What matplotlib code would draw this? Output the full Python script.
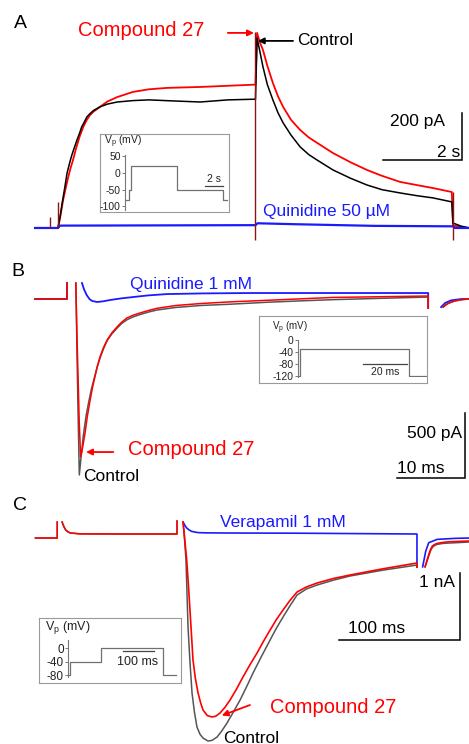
import numpy as np
import matplotlib.pyplot as plt

plt.rcParams["font.family"] = ["Liberation Sans", "DejaVu Sans"]
plt.rcParams["mathtext.fontset"] = "custom"
plt.rcParams["mathtext.rm"] = "Liberation Sans"
plt.rcParams["mathtext.it"] = "Liberation Sans:italic"

nan = np.nan

# ---- panel A: slow current (time in s, current in pA) ----
a_ctrl_t = [-0.58, 0, 0.05, 0.1, 0.17, 0.23, 0.3, 0.35, 0.42, 0.48, 0.55, 0.6, 0.67, 0.73, 0.8,
            0.9, 1.06, 1.25, 1.5, 1.9, 2.3, 3.0, 3.6, 4.3, 5.0,
            5.04, 5.1, 5.19, 5.3, 5.44, 5.57, 5.7, 5.9, 6.13, 6.35, 6.56, 6.96, 7.4, 7.82, 8.2,
            8.66, 9.1, 9.49, 9.97, 10.0, 10.2, 10.41]
a_ctrl_i = [0, 0, 45, 100, 170, 234, 280, 310, 345, 374, 405, 430, 452, 472, 485,
            500, 515, 527, 536, 542, 545, 540, 536, 545, 548,
            808, 760, 685, 610, 545, 490, 447, 395, 345, 312, 289, 247, 212, 183, 163,
            149, 137, 128, 111, 21, 8, 0]
a_cmp_t = [-0.58, 0, 0.06, 0.13, 0.19, 0.25, 0.31, 0.38, 0.46, 0.55, 0.64, 0.73, 0.81, 0.9,
           1.06, 1.25, 1.5, 1.9, 2.3, 2.76, 3.6, 4.3, 5.0,
           5.04, 5.1, 5.19, 5.3, 5.44, 5.57, 5.7, 5.9, 6.13, 6.35, 6.56, 6.96, 7.4, 7.82, 8.2,
           8.66, 9.1, 9.49, 9.97, 10.0, 10.41]
a_cmp_i = [0, 0, 50, 119, 165, 210, 250, 289, 340, 390, 430, 460, 480, 495,
           515, 538, 557, 579, 590, 596, 600, 605, 610,
           830, 795, 757, 690, 617, 560, 515, 460, 417, 385, 362, 319, 280, 247, 222,
           196, 182, 170, 153, 10, 0]
a_quin_t = [-0.58, 0, 0.05, 2.5, 5.0, 5.05, 6.0, 8.0, 10.0, 10.05, 10.41]
a_quin_i = [0, 0, 10, 11, 12, 20, 16, 9, 7, 0, 0]
a_spike_t = [-0.2, 0, 5.0, 10.0]
a_spike_lo = [0, 0, -51, -51]
a_spike_hi = [47, 110, 834, 153]
a_prot_t = [-0.6, -0.2, -0.2, 0, 0, 5, 5, 10, 10, 10.4]
a_prot_v = [-80, -80, -50, -50, 20, 20, -50, -50, -80, -80]

# ---- panel B: fast inward current (time in ms, current in pA) ----
b_ctrl_t = [-4.7, 0, 0, nan, 1.3, 1.45, 1.6, 1.81, 2.0, 2.2, 2.4, 2.8, 3.2, 3.6, 4.0, 4.4, 4.85,
            5.35, 5.9, 6.6, 7.35, 8.0, 8.8, 9.7, 10.7, 12.0, 13.2, 16, 19.6, 24, 29.4, 34,
            39.1, 46, 53.1, 53.1, nan, 55.3, 55.7, 56.0, 56.5, 57.0, 58.0, 59.1]
b_ctrl_i = [0, 0, 123, nan, 123, -350, -800, -1353, -1250, -1150, -1050, -900, -790, -690, -610,
            -530, -455, -385, -320, -268, -225, -190, -160, -138, -120, -100, -85, -65, -50,
            -40, -25, -15, -5, 5, 15, -69, nan, -62, -45, -35, -24, -15, -5, 0]
b_cmp_t = [-4.7, 0, 0, nan, 1.3, 1.45, 1.6, 1.8, 2.0, 2.2, 2.4, 2.65, 3.0, 3.4, 3.75, 4.1, 4.45,
           4.85, 5.35, 5.9, 6.6, 7.35, 8.0, 8.8, 9.7, 10.7, 12.0, 13.2, 16, 19.6, 24, 29.4,
           39.1, 53.1, 53.1, nan, 55.3, 55.7, 56.0, 56.5, 57.0, 58.0, 59.1]
b_cmp_i = [0, 0, 123, nan, 123, -250, -550, -950, -1213, -1170, -1110, -1031, -900, -777, -680,
           -600, -520, -446, -375, -315, -260, -215, -180, -146, -125, -108, -88, -72, -50,
           -35, -22, -10, 12, 23, -69, nan, -62, -45, -35, -24, -15, -5, 0]
b_quin_t = [-4.7, 0, 0, nan, 2.2, 2.5, 2.9, 3.3, 3.7, 4.4, 5.3, 6.3, 8, 9.7, 12, 14.7, 20, 26.9,
            53.1, 53.1, nan, 55.0, 55.6, 56.5, 58.0, 59.1]
b_quin_i = [0, 0, 123, nan, 123, 75, 30, 0, -15, -23, -18, -8, 5, 15, 28, 38, 43, 46,
            46, -69, nan, -62, -30, -10, 0, 0]
b_prot_t = [-1, 0, 0, 50, 50, 58]
b_prot_v = [-120, -120, -30, -30, -120, -120]

# ---- panel C: calcium current (time in ms, current in pA) ----
c_pre_t = [-117, -99, -99, nan, -95, -93.5, -92, -90, -88, -80, -40, 0, 0, nan]
c_pre_i = [0, 0, 239, nan, 239, 170, 120, 90, 75, 62, 60, 60, 254, nan]
c_ctrl_t = [5, 6.3, 7.4, 8.2, 9.1, 10.7, 12.4, 14.4, 16.5, 19, 21.5, 25.6, 29, 33.1, 37, 41.3,
            46.5, 52.1, 57.5, 62.8, 70, 76.9, 82, 87.6, 93.4, 99.2, 107, 115.7, 129, 143, 170,
            198.3, 198.3, nan, 205, 206.5, 208, 209.5, 211, 213, 215, 220, 225, 241]
c_ctrl_i = [239, -40, -328, -800, -1329, -1850, -2314, -2600, -2822, -2930, -2986, -3031, -3020,
            -2971, -2880, -2762, -2600, -2419, -2220, -2016, -1760, -1523, -1350, -1180, -1010,
            -851, -760, -702, -630, -567, -480, -403, -433, nan, -430, -350, -270, -190, -140,
            -110, -95, -80, -75, -60]
c_cmp_t = [5, 6.5, 8, 9.4, 10.7, 12, 13.2, 15.2, 17.4, 19.5, 21.5, 25, 28.9, 32, 35.5, 39.5,
           43.8, 49, 54.5, 60, 66.1, 71.5, 76.9, 82, 87.6, 93.4, 99.2, 107, 115.7, 129, 143,
           170, 198.3, 198.3, nan, 205, 206.5, 208, 209.5, 211, 213, 215, 220, 225, 241]
c_cmp_i = [239, -40, -328, -700, -1075, -1460, -1821, -2100, -2314, -2460, -2568, -2650, -2672,
           -2660, -2613, -2530, -2419, -2260, -2075, -1900, -1717, -1540, -1374, -1220, -1075,
           -930, -806, -730, -672, -605, -552, -460, -373, -433, nan, -430, -340, -250, -170,
           -120, -95, -80, -65, -55, -45]
c_vera_t = [5, 6.5, 8, 10, 12, 15, 18, 25, 40, 100, 198.3, 198.3, nan,
            203, 205.5, 208, 215, 230, 241]
c_vera_i = [239, 190, 150, 120, 100, 88, 80, 77, 75, 72, 60, -433, nan,
            -430, -200, -70, -20, -5, 0]
c_prot_t = [-106, -100, -100, 0, 0, 200, 200, 240]
c_prot_v = [-80, -80, -40, -40, 0, 0, -80, -80]

RED = "#ff0000"
BLUE = "#1a1aff"
GREY = "#555555"
W, H = 469, 744

fig = plt.figure(figsize=(W / 100, H / 100), dpi=100)


def px_axes(x0, y0, x1, y1):
    return fig.add_axes([x0 / W, 1 - y1 / H, (x1 - x0) / W, (y1 - y0) / H])


def fig_text(x, y, s, **kw):
    fig.text(x / W, 1 - y / H, s, **kw)


def scale_bar(ax, x0, x1, y0, y1, lw=1.1):
    # L-shaped bar: vertical at x1 from y1 to y0, horizontal at y0 from x0 to x1
    ax.plot([x0, x1, x1], [y0, y0, y1], color="black", lw=lw, solid_joinstyle="miter")


def arrow(ax, tail, tip, color):
    ax.annotate("", xy=tip, xytext=tail,
                arrowprops=dict(arrowstyle="-|>", color=color, lw=1.3,
                                mutation_scale=9, shrinkA=0, shrinkB=0))


def inset(box, axbox, t, v, xlim, ylim, yticks, fs, label_xy, label_fs):
    frame = px_axes(*box)
    frame.set_xticks([])
    frame.set_yticks([])
    for sp in frame.spines.values():
        sp.set_color("#9a9a9a")
        sp.set_linewidth(0.8)
    ax = px_axes(*axbox)
    ax.patch.set_visible(False)
    for side in ["top", "right", "bottom"]:
        ax.spines[side].set_visible(False)
    ax.spines["left"].set_color("#777777")
    ax.spines["left"].set_linewidth(0.8)
    ax.set_xticks([])
    ax.set_yticks(yticks)
    ax.set_yticklabels([str(y) for y in yticks])
    ax.tick_params(axis="y", length=2, width=0.7, color="#777777", labelsize=fs,
                   pad=1, labelcolor="#222222")
    ax.plot(t, v, color="#707070", lw=0.9)
    ax.set_xlim(*xlim)
    ax.set_ylim(*ylim)
    fig_text(label_xy[0], label_xy[1], r"V$_\mathrm{p}$ (mV)", fontsize=label_fs,
             va="center", ha="left", color="#222222")
    return ax


# ================= Panel A =================
axA = px_axes(0, 0, W, 255)
axA.axis("off")
axA.set_xlim(-1.468, 10.405)
axA.set_ylim(-115, 970)
axA.plot(a_cmp_t, a_cmp_i, color=RED, lw=1.3)
axA.plot(a_ctrl_t, a_ctrl_i, color="black", lw=1.1)
axA.plot(a_quin_t, a_quin_i, color=BLUE, lw=1.6)
axA.vlines(a_spike_t, a_spike_lo, a_spike_hi, color="#8b1515", lw=1.0)
scale_bar(axA, 8.23, 10.23, 289, 489)
axA.text(8.4, 451, "200 pA", fontsize=12.5, va="center", ha="left")
axA.text(10.18, 323, "2 s", fontsize=12.5, va="center", ha="right")
axA.text(0.51, 842, "Compound 27", fontsize=14.5, color=RED, va="center", ha="left")
arrow(axA, (4.30, 830), (4.96, 830), RED)
axA.text(6.05, 796, "Control", fontsize=12.5, va="center", ha="left")
arrow(axA, (5.95, 796), (5.06, 796), "black")
axA.text(5.19, 68, "Quinidine 50 µM", fontsize=12.5, color=BLUE, va="center", ha="left")
fig_text(20, 23, "A", fontsize=14, ha="center", va="center")

insA = inset((100, 134, 229, 212), (125, 155, 229.4, 210), a_prot_t, a_prot_v,
             (-0.65, 10.7), (-111, 54), [50, 0, -50, -100], 7.5, (104, 142), 7.5)
insA.plot([8.0, 10.0], [-39, -39], color="#444444", lw=0.9)
insA.text(9.0, -34, "2 s", fontsize=7.5, ha="center", va="bottom", color="#222222")

# ================= Panel B =================
axB = px_axes(0, 260, W, 490)
axB.axis("off")
axB.set_xlim(-9.85, 59.1)
axB.set_ylim(-1469, 300)
axB.plot(b_quin_t, b_quin_i, color=BLUE, lw=1.3)
axB.plot(b_ctrl_t, b_ctrl_i, color=GREY, lw=1.1)
axB.plot(b_cmp_t, b_cmp_i, color=RED, lw=1.1)
scale_bar(axB, 48.5, 58.5, -1377, -877)
axB.text(58.1, -1031, "500 pA", fontsize=12.5, va="center", ha="right")
axB.text(48.5, -1300, "10 ms", fontsize=12.5, va="center", ha="left")
axB.text(9.3, 108, "Quinidine 1 mM", fontsize=12.5, color=BLUE, va="center", ha="left")
axB.text(9.0, -1154, "Compound 27", fontsize=14.5, color=RED, va="center", ha="left")
arrow(axB, (6.8, -1177), (2.8, -1177), RED)
axB.text(2.35, -1369, "Control", fontsize=12.5, va="center", ha="left")
fig_text(18, 271, "B", fontsize=14, ha="center", va="center")

insB = inset((259, 316, 427, 383), (298, 340, 427, 377), b_prot_t, b_prot_v,
             (-0.9, 58.3), (-123, 0), [0, -40, -80, -120], 7.5, (272, 328), 7)
insB.plot([29, 49], [-80, -80], color="#444444", lw=0.9)
insB.text(39, -107, "20 ms", fontsize=7.5, ha="center", va="center", color="#222222")

# ================= Panel C =================
axC = px_axes(0, 490, W, H)
axC.axis("off")
axC.set_xlim(-146.3, 241.3)
axC.set_ylim(-3075, 717)
for col in [GREY, RED]:
    axC.plot(c_pre_t, c_pre_i, color=col, lw=1.1)
axC.plot(c_vera_t, c_vera_i, color=BLUE, lw=1.2)
axC.plot(c_ctrl_t, c_ctrl_i, color=GREY, lw=1.1)
axC.plot(c_cmp_t, c_cmp_i, color=RED, lw=1.2)
scale_bar(axC, 133.9, 233.9, -1523, -523)
axC.text(229.8, -657, "1 nA", fontsize=12.5, va="center", ha="right")
axC.text(141.3, -1344, "100 ms", fontsize=12.5, va="center", ha="left")
axC.text(35.5, 239, "Verapamil 1 mM", fontsize=12.5, color=BLUE, va="center", ha="left")
axC.text(76.9, -2523, "Compound 27", fontsize=14.5, color=RED, va="center", ha="left")
arrow(axC, (60.3, -2493), (37.0, -2650), RED)
axC.text(38.1, -2986, "Control", fontsize=12.5, va="center", ha="left", clip_on=False)
fig_text(20, 505, "C", fontsize=14, ha="center", va="center")

insC = inset((39, 618, 181, 683), (68, 640, 179, 677), c_prot_t, c_prot_v,
             (-108, 250), (-85, 23.5), [0, -40, -80], 8.5, (45, 627), 9)
insC.plot([68, 168], [-9, -9], color="#444444", lw=0.9)
insC.text(116, -41, "100 ms", fontsize=9, ha="center", va="center", color="#222222")

fig.savefig("out.png", dpi=100)
